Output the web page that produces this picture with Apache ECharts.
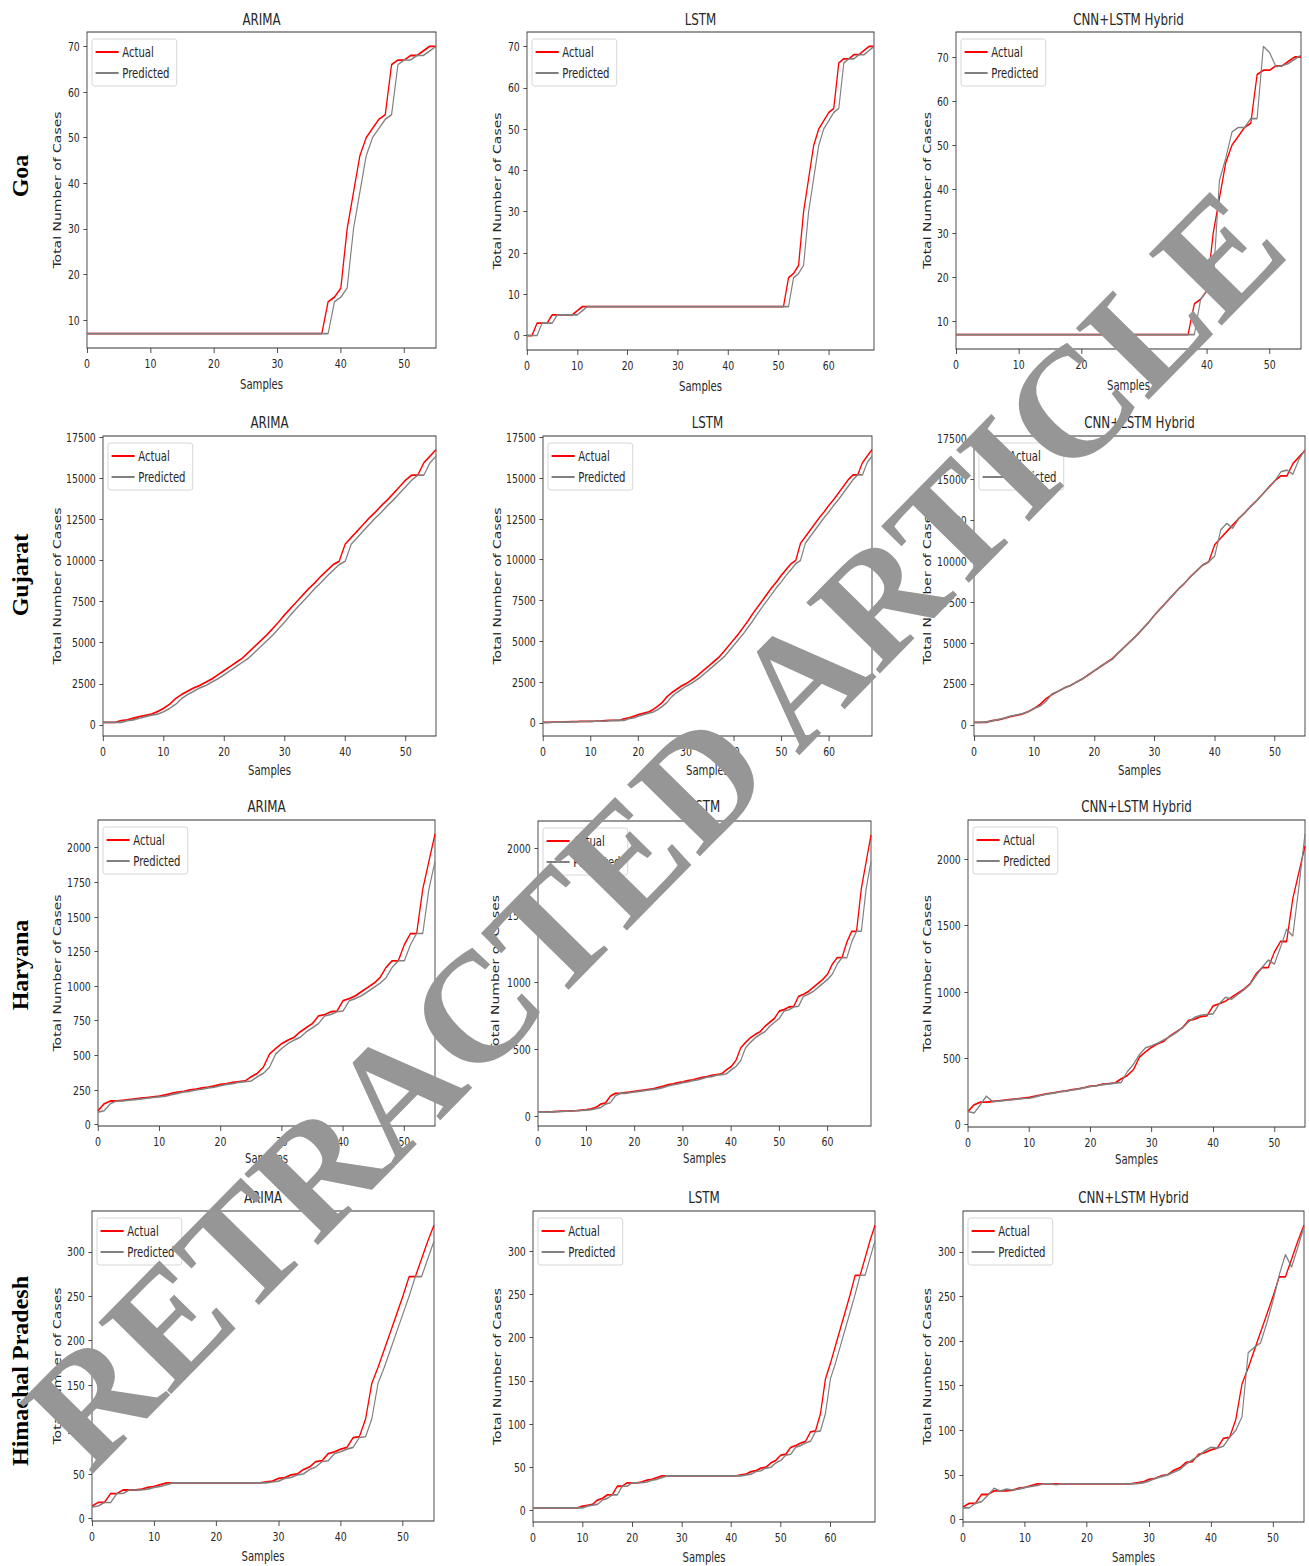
<!DOCTYPE html>
<html><head><meta charset="utf-8">
<script src="https://cdn.jsdelivr.net/npm/echarts@6/dist/echarts.min.js"></script>
<style>
html,body{margin:0;padding:0;background:#fff;overflow:hidden}
#wrap{position:relative;width:1309px;height:1566px;overflow:hidden}
#main{position:absolute;left:0;top:0;height:1566px;transform-origin:0 0}
#over{position:absolute;left:0;top:0;width:1309px;height:1566px;pointer-events:none}
</style>
</head><body>
<div id="wrap"><div id="main"></div><div id="over"></div></div>
<script>
// ---------------- DATA ----------------
const rowLabels = ['Goa', 'Gujarat', 'Haryana', 'Himachal Pradesh'];
const modelTitles = ['ARIMA', 'LSTM', 'CNN+LSTM Hybrid'];
const seriesNames = ['Actual', 'Predicted'];

const xTicks55 = [0, 10, 20, 30, 40, 50];
const xTicks69 = [0, 10, 20, 30, 40, 50, 60];
const goaYTicksA = [10, 20, 30, 40, 50, 60, 70];
const goaYTicksL = [0, 10, 20, 30, 40, 50, 60, 70];
const gujYTicks = [0, 2500, 5000, 7500, 10000, 12500, 15000, 17500];
const harYTicksA = [0, 250, 500, 750, 1000, 1250, 1500, 1750, 2000];
const harYTicks = [0, 500, 1000, 1500, 2000];
const himYTicks = [0, 50, 100, 150, 200, 250, 300];

// Goa
const goaActual = [7,7,7,7,7,7,7,7,7,7, 7,7,7,7,7,7,7,7,7,7, 7,7,7,7,7,7,7,7,7,7, 7,7,7,7,7,7,7,7,
  14,15,17,30,38,46,50,52,54,55,66,67,67,68,68,69,70,70];
const goaArimaPred = [7,7,7,7,7,7,7,7,7,7, 7,7,7,7,7,7,7,7,7,7, 7,7,7,7,7,7,7,7,7,7, 7,7,7,7,7,7,7,7,7,
  14,15,17,30,38,46,50,52,54,55,66,67,67,68,68,69,70];
const goaLstmActual = [0,0,3,3,3,5,5,5,5,5, 6,7,7,7,7,7,7,7,7,7, 7,7,7,7,7,7,7,7,7,7, 7,7,7,7,7,7,7,7,7,7,
  7,7,7,7,7,7,7,7,7,7, 7,7, 14,15,17,30,38,46,50,52,54,55,66,67,67,68,68,69,70,70];
const goaLstmPred = [0,0,0,3,3,3,5,5,5,5, 5,6,7,7,7,7,7,7,7,7, 7,7,7,7,7,7,7,7,7,7, 7,7,7,7,7,7,7,7,7,7,
  7,7,7,7,7,7,7,7,7,7, 7,7,7, 14,15,17,30,38,46,50,52,54,55,66,67,67,68,68,69,70];
const goaCnnPred = [7,7,7,7,7,7,7,7,7,7, 7,7,7,7,7,7,7,7,7,7, 7,7,7,7,7,7,7,7,7,7, 7,7,7,7,7,7,7,7,7,
  15,17,19,42,47,53,54,54,56,56,72.4,71,67.8,68,68.5,69.5,70.4];

// Gujarat
const gujActual = [150,150,150,250,300,400,500,580,650,800,
  1000,1250,1600,1850,2050,2250,2400,2600,2800,3050,
  3300,3550,3800,4050,4400,4750,5100,5450,5850,6250,
  6700,7100,7500,7900,8300,8650,9050,9400,9750,9950,
  11000,11400,11800,12200,12600,12950,13350,13700,14100,14500,
  14900,15200,15200,15950,16350,16750];
const gujArimaPred = [150,150,150,150,250,300,400,500,580,650,
  800,1000,1250,1600,1850,2050,2250,2400,2600,2800,
  3050,3300,3550,3800,4050,4400,4750,5100,5450,5850,
  6250,6700,7100,7500,7900,8300,8650,9050,9400,9750,
  9950,11000,11400,11800,12200,12600,12950,13350,13700,14100,
  14500,14900,15200,15200,15950,16350];
const gujLstmActual = [30,35,40,45,50,60,70,80,85,90,
  95,100,110,130,150,150,150,250,300,400,
  500,580,650,800,1000,1250,1600,1850,2050,2250,
  2400,2600,2800,3050,3300,3550,3800,4050,4400,4750,
  5100,5450,5850,6250,6700,7100,7500,7900,8300,8650,
  9050,9400,9750,9950,11000,11400,11800,12200,12600,12950,
  13350,13700,14100,14500,14900,15200,15200,15950,16350,16750];
const gujLstmPred = [30,30,35,40,45,50,60,70,80,85,
  90,95,100,110,130,150,150,150,250,300,
  400,500,580,650,800,1000,1250,1600,1850,2050,
  2250,2400,2600,2800,3050,3300,3550,3800,4050,4400,
  4750,5100,5450,5850,6250,6700,7100,7500,7900,8300,
  8650,9050,9400,9750,9950,11000,11400,11800,12200,12600,
  12950,13350,13700,14100,14500,14900,15200,15200,15950,16350];
const gujCnnPred = [150,150,180,230,320,400,520,600,680,800,
  1000,1150,1450,1900,2050,2250,2400,2600,2800,3050,
  3300,3550,3800,4000,4400,4750,5100,5450,5850,6250,
  6700,7100,7500,7900,8300,8650,9050,9400,9750,9950,
  10300,11900,12300,12000,12600,12950,13350,13700,14100,14500,
  14900,15450,15550,15300,16200,16800];

// Haryana
const harActual = [100,150,170,170,175,180,185,190,195,200,
  205,215,225,235,240,250,255,265,270,280,
  290,295,305,310,315,345,370,415,510,550,
  585,610,630,670,700,730,785,795,815,820,
  895,910,930,960,990,1020,1060,1135,1183,1183,
  1300,1380,1380,1700,1900,2100];
const harArimaPred = [90,100,150,170,170,175,180,185,190,195,
  200,205,215,225,235,240,250,255,265,270,
  280,290,295,305,310,315,345,370,415,510,
  550,585,610,630,670,700,730,785,795,815,
  820,895,910,930,960,990,1020,1060,1135,1183,
  1183,1300,1380,1380,1700,1900];
const harLstmActual = [30,30,32,33,35,37,38,40,42,45,
  48,55,65,90,100,150,170,170,175,180,
  185,190,195,200,205,215,225,235,240,250,
  255,265,270,280,290,295,305,310,315,345,
  370,415,510,550,585,610,630,670,700,730,
  785,795,815,820,895,910,930,960,990,1020,
  1060,1135,1183,1183,1300,1380,1380,1700,1900,2100];
const harLstmPred = [30,30,30,32,33,35,37,38,40,42,
  45,48,55,65,90,100,150,170,170,175,
  180,185,190,195,200,205,215,225,235,240,
  250,255,265,270,280,290,295,305,310,315,
  345,370,415,510,550,585,610,630,670,700,
  730,785,795,815,820,895,910,930,960,990,
  1020,1060,1135,1183,1183,1300,1380,1380,1700,1900];
const harCnnPred = [100,88,150,215,175,178,183,188,193,198,
  200,210,222,232,238,248,253,262,268,278,
  288,293,302,308,313,318,400,455,530,580,
  595,615,640,665,695,730,775,810,825,830,
  835,910,960,945,980,1015,1055,1120,1185,1240,
  1210,1335,1473,1420,1790,2190];

// Himachal Pradesh
const himActual = [14,18,18,28,28,32,32,32,33,35,
  36,38,40,40,40,40,40,40,40,40,
  40,40,40,40,40,40,40,40,41,42,
  45,46,49,50,55,58,64,65,73,75,
  78,80,91,92,112,152,170,190,210,230,
  250,272,272,292,312,330];
const himArimaPred = [13,14,18,18,28,28,32,32,32,33,
  35,36,38,40,40,40,40,40,40,40,
  40,40,40,40,40,40,40,40,40,41,
  42,45,46,49,50,55,58,64,65,73,
  75,78,80,91,92,112,152,170,190,210,
  230,250,272,272,292,312];
const himLstmActual = [3,3,3,3,3,3,3,3,3,3,
  5,6,7,12,14,18,18,28,28,32,
  32,32,33,35,36,38,40,40,40,40,
  40,40,40,40,40,40,40,40,40,40,
  40,40,41,42,45,46,49,50,55,58,
  64,65,73,75,78,80,91,92,112,152,
  170,190,210,230,250,272,272,292,312,330];
const himLstmPred = [3,3,3,3,3,3,3,3,3,3,
  3,5,6,7,12,14,18,18,28,28,
  32,32,32,33,35,36,38,40,40,40,
  40,40,40,40,40,40,40,40,40,40,
  40,40,40,41,42,45,46,49,50,55,
  58,64,65,73,75,78,80,91,92,112,
  152,170,190,210,230,250,272,272,292,312];
const himCnnPred = [13,13,18,20,27,35,32,34,33,34,
  36,37,38,40,40,39,40,40,40,40,
  40,40,40,40,40,40,40,40,40,41,
  43,46,48,50,53,56,62,67,71,77,
  81,80,82,92,100,115,187,193,198,220,
  245,274,297,283,305,328];

const watermark = 'RETRACTED ARTICLE';

// ---------------- PANELS ----------------
const panels = [
  {t:0, a:goaActual, p:goaArimaPred, xt:xTicks55, yt:goaYTicksA},
  {t:1, a:goaLstmActual, p:goaLstmPred, xt:xTicks69, yt:goaYTicksL},
  {t:2, a:goaActual, p:goaCnnPred, xt:xTicks55, yt:goaYTicksA},
  {t:0, a:gujActual, p:gujArimaPred, xt:xTicks55, yt:gujYTicks},
  {t:1, a:gujLstmActual, p:gujLstmPred, xt:xTicks69, yt:gujYTicks},
  {t:2, a:gujActual, p:gujCnnPred, xt:xTicks55, yt:gujYTicks},
  {t:0, a:harActual, p:harArimaPred, xt:xTicks55, yt:harYTicksA},
  {t:1, a:harLstmActual, p:harLstmPred, xt:xTicks69, yt:harYTicks},
  {t:2, a:harActual, p:harCnnPred, xt:xTicks55, yt:harYTicks},
  {t:0, a:himActual, p:himArimaPred, xt:xTicks55, yt:himYTicks},
  {t:1, a:himLstmActual, p:himLstmPred, xt:xTicks69, yt:himYTicks},
  {t:2, a:himActual, p:himCnnPred, xt:xTicks55, yt:himYTicks}
];

// ---------------- LAYOUT (reference pixels) ----------------
const S = 0.72; // horizontal squeeze of the panels
const boxes = [
  [87,32,436,348],[527,32,874,350],[956,32,1301,349],
  [103,436,436,736],[543,436,872,736],[974,436,1305,736],
  [98,820,435,1126],[538,821,871,1126],[968,820,1305,1127],
  [92,1211,434,1521],[533,1211,875,1522],[963,1211,1304,1522]
];
const yNameGaps = [34,34,33, 56,56,57, 49,52,49, 41,42,42];
const xNameGaps = [29,27,25,28];
const titleYs = [19,422,806,1197];
const rowLabelYs = [176,575,965,1371];

const SANS = "'DejaVu Sans', sans-serif";
const TXT = '#262626';
const plain = v => String(v);

const grid=[], xAxis=[], yAxis=[], series=[], legend=[], graphic=[];
panels.forEach((pp,i)=>{
  const [L,T,R,B] = boxes[i];
  const row = Math.floor(i/3);
  grid.push({left:L/S, top:T, width:(R-L)/S, height:B-T, show:true,
    borderColor:'#333', borderWidth:1.2, backgroundColor:'rgba(0,0,0,0)'});
  const all = pp.a.concat(pp.p);
  const mn = Math.min.apply(null, all), mx = Math.max.apply(null, all);
  const pad = (mx-mn)*0.05;
  xAxis.push({type:'value', gridIndex:i, min:0, max:pp.a.length-1,
    axisLine:{show:false, onZero:false}, splitLine:{show:false},
    axisTick:{show:true, length:5, customValues:pp.xt, lineStyle:{color:'#333'}},
    axisLabel:{customValues:pp.xt, formatter:plain, margin:9, fontSize:13, color:TXT, fontFamily:SANS},
    name:'Samples', nameLocation:'middle', nameGap:xNameGaps[row],
    nameTextStyle:{fontSize:14, color:TXT, fontFamily:SANS}});
  yAxis.push({type:'value', gridIndex:i, min:mn-pad, max:mx+pad,
    axisLine:{show:false, onZero:false}, splitLine:{show:false},
    axisTick:{show:true, length:5, customValues:pp.yt, lineStyle:{color:'#333'}},
    axisLabel:{customValues:pp.yt, formatter:plain, margin:10, fontSize:13, color:TXT, fontFamily:SANS},
    name:'Total Number of Cases', nameLocation:'middle', nameGap:yNameGaps[i],
    nameTextStyle:{fontSize:14, color:TXT, fontFamily:SANS}});
  series.push({type:'line', name:seriesNames[0], xAxisIndex:i, yAxisIndex:i,
    data:pp.a.map((v,k)=>[k,v]), symbol:'none', showSymbol:false, animation:false,
    lineStyle:{color:'#ff0000', width:1.8}, itemStyle:{color:'#ff0000'}});
  series.push({type:'line', name:seriesNames[1], xAxisIndex:i, yAxisIndex:i,
    data:pp.p.map((v,k)=>[k,v]), symbol:'none', showSymbol:false, animation:false,
    lineStyle:{color:'#808080', width:1.6}, itemStyle:{color:'#808080'}});
  legend.push({data:seriesNames, orient:'vertical', left:(L+5)/S, top:T+7,
    icon:'rect', itemWidth:32, itemHeight:2, itemGap:7, padding:[6,10,6,5],
    borderColor:'#cfcfcf', borderWidth:1, borderRadius:3, backgroundColor:'#fff',
    selectedMode:false, textStyle:{fontSize:14, lineHeight:14, color:TXT, fontFamily:SANS}});
  graphic.push({type:'text', x:(L+R)/2/S, y:titleYs[row], silent:true,
    style:{text:modelTitles[pp.t], fontSize:16.5, fontFamily:SANS, fill:TXT,
      textAlign:'center', textVerticalAlign:'middle', align:'center', verticalAlign:'middle'}});
});

const mainEl = document.getElementById('main');
mainEl.style.width = (1309/S) + 'px';
mainEl.style.transform = 'scaleX(' + S + ')';
const chart = echarts.init(mainEl, null, {renderer:'svg'});
chart.setOption({animation:false, backgroundColor:'#fff', grid, xAxis, yAxis, series, legend, graphic});

// overlay: row labels and watermark (not squeezed)
const over = echarts.init(document.getElementById('over'), null, {renderer:'svg'});
const og = rowLabels.map((t,r)=>({type:'text', x:20, y:rowLabelYs[r], rotation:Math.PI/2, silent:true,
  style:{text:t, fontSize:24, fontWeight:'bold', fontFamily:"'Liberation Serif', 'DejaVu Serif', serif",
    fill:'#000', textAlign:'center', textVerticalAlign:'middle', align:'center', verticalAlign:'middle'}}));
og.push({type:'text', x:654, y:828, rotation:45.5*Math.PI/180, silent:true, z:100,
  style:{text:watermark, fontSize:156, fontWeight:'bold', fontFamily:"'Liberation Serif', 'DejaVu Serif', serif",
    fill:'#969696', textAlign:'center', textVerticalAlign:'middle', align:'center', verticalAlign:'middle'}});
over.setOption({animation:false, graphic:og});
</script>
</body></html>
